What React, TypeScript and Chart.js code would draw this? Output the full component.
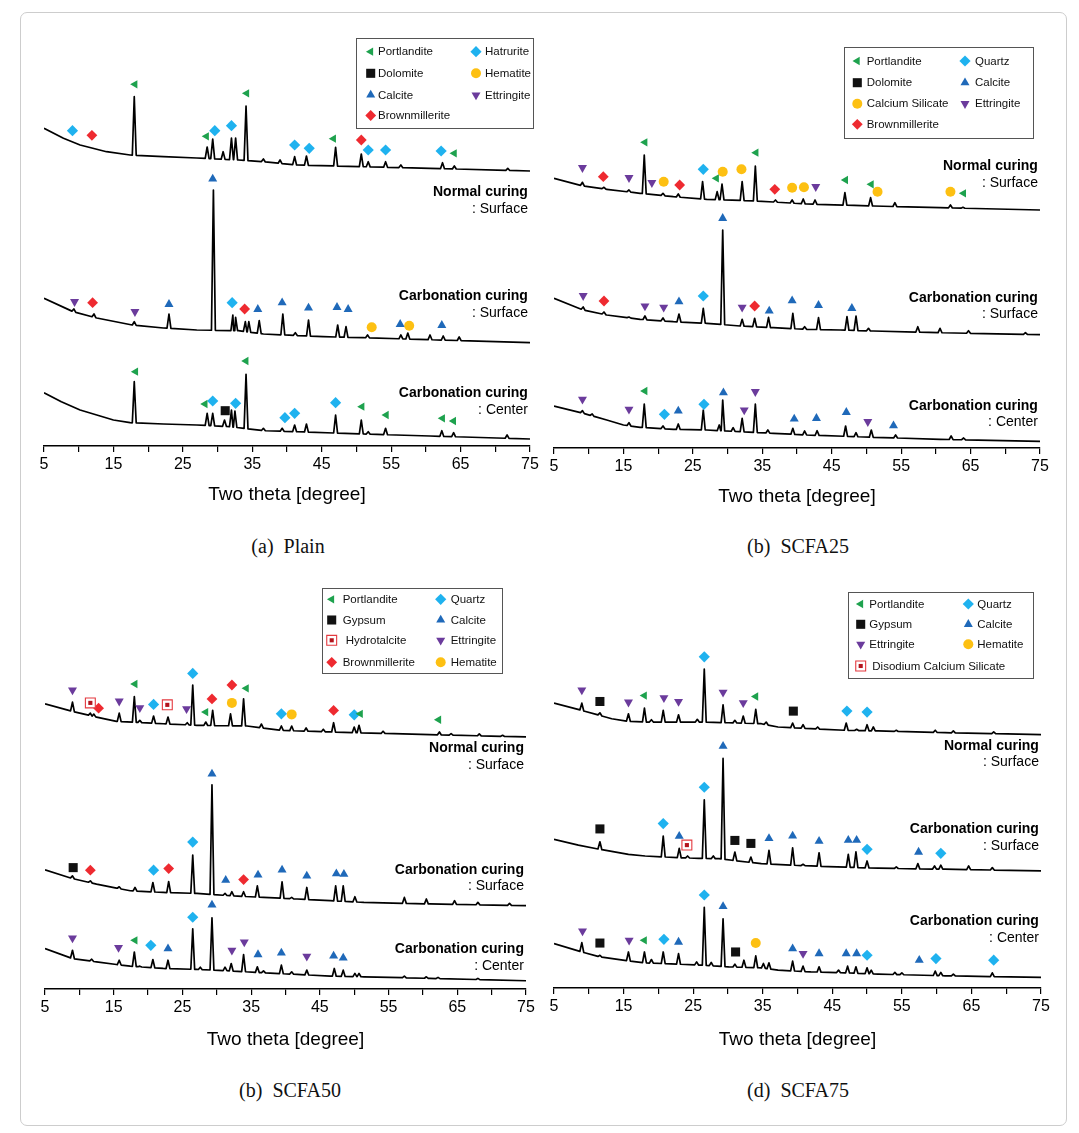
import React, { useEffect, useRef } from 'react';
import { Chart, registerables } from 'chart.js';

Chart.register(...registerables);

const FONT = '"Liberation Sans", Arial, Helvetica, sans-serif';
const SERIF = '"Liberation Serif", "Times New Roman", serif';

// ---------------- axis data ----------------
const X_MIN = 5;
const X_MAX = 75;
const X_TICK_LABELS = [5, 15, 25, 35, 45, 55, 65, 75];
const X_TITLE = 'Two theta [degree]';
const LABEL_THETA = 74.7;

// ---------------- (a) Plain ----------------
const A_NORMAL_BASE = [[5, 317.7], [7.8, 307.7], [10.2, 301], [14, 294.3], [17.4, 291], [22.2, 289.3], [27, 288], [33, 286], [36.5, 284.3], [41.4, 281], [51, 279.3], [60.6, 277.7], [75, 275]];
const A_NORMAL_PEAKS = [[18.0, 349.3], [28.5, 299], [29.3, 307], [30.8, 294.3], [32.0, 308], [32.6, 308], [34.1, 340], [36.6, 287], [39.0, 286], [41.1, 289.3], [42.8, 290], [47.0, 298.7], [50.7, 292], [51.7, 284.3], [54.2, 284.3], [56.4, 281], [62.4, 283.3], [64.1, 280], [71.8, 277.7]];
const A_NORMAL_MARKS = [['Q', 9.1, 315.3], ['B', 11.9, 310.7], ['P', 18.1, 361.7], ['P', 28.4, 309.7], ['Q', 29.6, 315.3], ['Q', 32.0, 320.3], ['P', 34.2, 352.7], ['Q', 41.1, 301], ['Q', 43.2, 297.7], ['P', 46.7, 307.3], ['B', 50.7, 306], ['Q', 51.7, 296], ['Q', 54.2, 296], ['Q', 62.2, 295], ['P', 64.1, 292.7]];

const A_CARBS_BASE = [[5, 147.7], [9.2, 134.3], [12.6, 128], [17.7, 121], [22.2, 118], [27, 116], [33, 115.3], [36.6, 112], [45.2, 109.3], [51, 108.3], [75, 103.3]];
const A_CARBS_PEAKS = [[9.3, 137], [12.2, 132], [18.0, 124.3], [23.0, 132], [29.4, 256], [32.2, 131], [32.6, 128.7], [34.0, 124.3], [34.5, 124.3], [36.0, 125.3], [39.4, 132], [41.2, 113.3], [43.1, 126], [47.3, 121], [48.5, 119.3], [51.6, 111], [56.4, 111], [57.4, 113], [60.6, 111], [62.5, 110], [64.8, 109]];
const A_CARBS_MARKS = [['E', 9.4, 144.3], ['B', 12.0, 143.3], ['E', 18.1, 134.3], ['C', 23.0, 141.7], ['C', 29.3, 267], ['Q', 32.1, 143.3], ['B', 33.9, 137], ['C', 35.8, 136.7], ['C', 39.3, 143.3], ['C', 43.1, 138], ['C', 47.2, 138.7], ['C', 48.8, 136.7], ['H', 52.2, 118.7], ['C', 56.3, 121.7], ['H', 57.6, 120.3], ['C', 62.3, 120.7]];

const A_CARBC_BASE = [[5, 53.3], [7.5, 44.3], [10.2, 36], [12.6, 31], [15, 26], [17.4, 23.3], [22.2, 22], [27, 21], [31.8, 19.3], [36.6, 15.3], [41.4, 14.3], [51, 12], [60.6, 10], [75, 7]];
const A_CARBC_PEAKS = [[18.0, 64.3], [28.5, 32.7], [29.3, 32.7], [31.0, 26], [32.0, 36], [32.5, 35], [34.1, 71.7], [36.6, 17.7], [39.3, 17.7], [41.1, 21], [42.8, 22], [47.0, 31], [50.7, 26], [51.7, 14.3], [54.2, 17.7], [62.3, 15.3], [64.0, 13.3], [71.7, 11]];
const A_CARBC_MARKS = [['P', 18.2, 74.3], ['P', 28.2, 42], ['Q', 29.3, 45], ['S', 31.1, 35.3], ['Q', 32.6, 42.7], ['P', 34.1, 85], ['Q', 39.7, 28.3], ['Q', 41.1, 32.7], ['Q', 47.0, 43.3], ['P', 50.8, 39.3], ['P', 54.3, 31], ['P', 62.4, 27.7], ['P', 64.0, 25]];

const A_LABELS = [['Normal curing', ': Surface', 253.7, 237], ['Carbonation curing', ': Surface', 150, 133.3], ['Carbonation curing', ': Center', 52.7, 36]];
const A_LEGEND = [['P', 'Portlandite'], ['Q', 'Hatrurite'], ['S', 'Dolomite'], ['H', 'Hematite'], ['C', 'Calcite'], ['E', 'Ettringite'], ['B', 'Brownmillerite']];

// ---------------- (b) SCFA25 ----------------
const B_NORMAL_BASE = [[5, 269.7], [9.2, 262], [12.6, 258.7], [17.4, 254.7], [22.2, 251.3], [27, 248.7], [34.2, 247], [41.4, 244], [51, 242], [60.6, 240.3], [75, 238]];
const B_NORMAL_PEAKS = [[9.1, 265.7], [12.2, 260.7], [15.8, 258], [18.0, 293], [20.7, 254.7], [22.9, 254], [26.4, 266.3], [28.5, 256.3], [29.2, 264], [32.1, 266.3], [34.0, 282], [36.9, 248], [39.3, 248], [40.9, 249], [42.6, 248], [46.9, 255.3], [50.6, 250.3], [54.1, 245.3], [62.1, 243], [63.9, 240.7]];
const B_NORMAL_MARKS = [['E', 9.1, 280.3], ['B', 12.1, 271.3], ['E', 15.8, 270.3], ['P', 18.1, 305.7], ['E', 19.1, 265.3], ['H', 20.8, 266.3], ['B', 23.1, 263], ['Q', 26.5, 278.7], ['P', 28.4, 269.7], ['H', 29.3, 276.3], ['H', 32.0, 278.7], ['P', 34.1, 295.3], ['B', 36.8, 258.7], ['H', 39.3, 260.3], ['H', 41.0, 260.7], ['E', 42.7, 261.3], ['P', 47.0, 268], ['P', 50.7, 263.7], ['H', 51.6, 256.3], ['H', 62.1, 256.3], ['P', 64.0, 254.7]];

const B_CARBS_BASE = [[5, 149.7], [9.2, 138], [12.6, 133], [17.4, 128.7], [22.2, 126.3], [27, 124.7], [31.8, 122], [36.6, 120.3], [41.4, 118.7], [46.2, 118], [51, 117], [60.6, 115.3], [75, 113.3]];
const B_CARBS_PEAKS = [[9.2, 141], [12.2, 136], [15.8, 131], [18.1, 132], [20.7, 130], [23.0, 134], [26.5, 139.7], [29.3, 218], [32.1, 128.7], [33.9, 129.7], [35.9, 130.7], [39.4, 134.7], [41.1, 121.3], [43.1, 130.3], [47.2, 131.3], [48.5, 132], [50.3, 119.7], [57.4, 121.3], [60.6, 119.7], [64.7, 117.3], [72.9, 115.3]];
const B_CARBS_MARKS = [['E', 9.2, 152.3], ['B', 12.2, 147], ['E', 18.1, 142], ['E', 20.8, 140.7], ['C', 23.0, 146.3], ['Q', 26.5, 152], ['C', 29.3, 229.7], ['E', 32.1, 140.7], ['B', 33.9, 142], ['C', 36.0, 137], ['C', 39.3, 147.3], ['C', 43.1, 142.7], ['C', 47.9, 139.7]];

const B_CARBC_BASE = [[5, 42], [9.2, 34.7], [12.6, 28], [15, 23], [17.4, 20.7], [22.2, 18.7], [27, 18], [31.8, 16.3], [36.6, 14.7], [41.4, 13], [51, 10.7], [60.6, 8.7], [75, 6.7]];
const B_CARBC_PEAKS = [[9.1, 37.3], [10.5, 34], [15.8, 25.3], [18.0, 44], [20.7, 22], [22.9, 24], [26.5, 38], [28.8, 23], [29.3, 48], [30.8, 20.3], [32.1, 29.7], [34.0, 44], [35.8, 18], [39.4, 19.7], [41.1, 17], [42.9, 17.3], [47.0, 22], [48.5, 15.3], [50.7, 18], [54.2, 13], [62.2, 12], [64.0, 10]];
const B_CARBC_MARKS = [['E', 9.1, 48.7], ['E', 15.8, 38.7], ['P', 18.1, 57], ['Q', 20.9, 33.7], ['C', 22.9, 37], ['Q', 26.6, 43.7], ['C', 29.4, 55.3], ['E', 32.4, 38], ['E', 34.0, 56.3], ['C', 39.6, 29], ['C', 42.8, 29.7], ['C', 47.1, 35.7], ['E', 50.2, 26.3], ['C', 53.9, 22.3]];

const B_LABELS = [['Normal curing', ': Surface', 282, 265.3], ['Carbonation curing', ': Surface', 150.3, 133.7], ['Carbonation curing', ': Center', 42.3, 25.7]];
const B_LEGEND = [['P', 'Portlandite'], ['Q', 'Quartz'], ['S', 'Dolomite'], ['C', 'Calcite'], ['H', 'Calcium Silicate'], ['E', 'Ettringite'], ['B', 'Brownmillerite']];

// ---------------- (c) SCFA50 ----------------
const C_NORMAL_BASE = [[5, 287.3], [9.0, 279.7], [12.5, 274], [15.4, 269.7], [22.2, 267.3], [27.1, 265.7], [34.4, 265], [39.2, 260.7], [46.5, 259], [61, 256.3], [75, 254]];
const C_NORMAL_PEAKS = [[9.0, 289], [11.6, 278], [12.1, 277], [15.8, 278], [18.0, 294.7], [18.8, 270.7], [20.8, 275], [22.9, 274], [25.7, 268.3], [26.5, 306.3], [28.4, 269], [29.4, 280.7], [32.0, 277.3], [33.9, 292.3], [36.5, 267], [39.4, 265], [40.9, 265], [43.0, 263], [45.5, 261.7], [47.0, 268.3], [50.0, 264], [50.7, 265.7], [54.2, 259.7], [62.4, 259], [64.1, 257.3], [68.2, 257], [71.6, 255.7]];
const C_NORMAL_MARKS = [['E', 9.0, 301.3], ['X', 11.6, 288.3], ['B', 12.8, 283], ['E', 15.8, 290], ['P', 18.1, 307.3], ['E', 18.8, 283.3], ['Q', 20.8, 286.7], ['X', 22.8, 286.3], ['E', 25.6, 282.3], ['Q', 26.5, 318], ['P', 28.4, 279], ['B', 29.3, 292.3], ['B', 32.2, 306.3], ['H', 32.2, 288.3], ['P', 34.3, 303], ['Q', 39.4, 277.3], ['H', 40.9, 276.7], ['B', 47.0, 280.7], ['Q', 50.0, 276.3], ['P', 50.9, 277.3], ['P', 62.3, 271.3]];

const C_CARBS_BASE = [[5, 120], [9.0, 111.3], [12.5, 105.7], [15.4, 101.7], [17.4, 99], [22.2, 97.3], [27.1, 96.3], [31.9, 94], [36.8, 92.3], [41.7, 90.7], [46.5, 89], [51.4, 87.3], [61, 85.7], [75, 84]];
const C_CARBS_PEAKS = [[9.0, 114], [11.6, 109], [15.8, 103], [18.1, 102.3], [20.7, 107.3], [23.0, 108.3], [26.5, 135], [29.3, 205.7], [31.2, 96.3], [32.2, 98], [33.9, 98], [35.9, 104], [39.5, 108], [40.9, 92.3], [43.1, 102.3], [47.3, 104], [48.4, 104], [50.1, 93], [57.3, 92.3], [60.5, 90.7], [64.6, 89], [68.0, 87.3], [72.6, 86.3]];
const C_CARBS_MARKS = [['S', 9.1, 122.3], ['B', 11.6, 119.7], ['Q', 20.8, 119.7], ['B', 23.0, 121.3], ['Q', 26.5, 148], ['C', 29.3, 216.7], ['C', 31.3, 109.7], ['B', 33.9, 110.3], ['C', 36.0, 115], ['C', 39.5, 120], ['C', 43.1, 114], ['C', 47.4, 116.3], ['C', 48.5, 115.7]];

const C_CARBC_BASE = [[5, 40.7], [9.0, 30.7], [12.5, 27.3], [15.4, 24.7], [17.4, 23], [22.2, 20.7], [27.1, 19.7], [31.9, 18.3], [36.8, 16.3], [41.7, 14.7], [46.5, 13], [51.4, 12.3], [61, 10.7], [75, 8.3]];
const C_CARBC_PEAKS = [[9.0, 39], [11.8, 30], [15.8, 29], [18.0, 37.3], [18.8, 23], [20.7, 29.7], [22.9, 29], [26.5, 60.7], [27.6, 22], [29.3, 71.7], [31.2, 22], [32.1, 25.7], [33.9, 34.7], [35.9, 22.3], [36.8, 18.3], [39.4, 24], [40.9, 17.3], [43.1, 19], [47.1, 20.7], [48.4, 19], [50.1, 15.7], [50.7, 15.7], [57.3, 13], [60.5, 12.3], [62.2, 11.7], [68.0, 10.7]];
const C_CARBC_MARKS = [['E', 9.0, 51.3], ['E', 15.7, 41.7], ['P', 18.1, 49], ['Q', 20.4, 44], ['C', 22.9, 40.7], ['Q', 26.5, 72.3], ['C', 29.3, 84.7], ['E', 32.2, 39], ['E', 34.0, 47.3], ['C', 36.0, 34.7], ['C', 39.4, 36.3], ['E', 43.1, 33], ['C', 47.0, 33.3], ['C', 48.4, 31.3]];

const C_LABELS = [['Normal curing', ': Surface', 242.3, 225.7], ['Carbonation curing', ': Surface', 120, 103.3], ['Carbonation curing', ': Center', 40, 23.3]];
const C_LEGEND = [['P', 'Portlandite'], ['Q', 'Quartz'], ['S', 'Gypsum'], ['C', 'Calcite'], ['X', 'Hydrotalcite'], ['E', 'Ettringite'], ['B', 'Brownmillerite'], ['H', 'Hematite']];

// ---------------- (d) SCFA75 ----------------
const D_NORMAL_BASE = [[5, 287], [9.0, 279.7], [13.3, 271.3], [15.7, 268.7], [18.1, 268], [22.9, 268], [26.2, 268], [30.1, 267.3], [34.8, 266.3], [37.2, 263], [41.9, 261.3], [46.8, 259.7], [51.6, 259], [61.2, 257.3], [75, 255.3]];
const D_NORMAL_PEAKS = [[9.0, 287], [11.6, 277.3], [15.7, 276.3], [18.0, 282], [19.0, 270.3], [20.7, 279.7], [22.9, 275.3], [25.6, 270.7], [26.6, 321.3], [29.3, 285.3], [31.0, 269.7], [32.2, 274], [34.0, 280.7], [35.5, 268], [39.3, 267], [40.8, 265.3], [42.9, 263], [47.0, 267], [48.5, 260.7], [50.0, 265.3], [50.9, 263], [54.2, 259.7], [59.8, 259.7], [62.4, 259], [68.2, 258]];
const D_NORMAL_MARKS = [['E', 9.0, 300.3], ['S', 11.6, 288.7], ['E', 15.7, 288], ['P', 18.0, 294.7], ['E', 20.8, 292.3], ['E', 22.9, 288.7], ['Q', 26.6, 333.7], ['E', 29.3, 298], ['E', 32.2, 287.3], ['P', 34.0, 293.7], ['S', 39.4, 279], ['Q', 47.1, 279], ['Q', 50.0, 278]];

const D_CARBS_BASE = [[5, 149.7], [8.5, 144], [11.6, 139.7], [15.7, 134.7], [18.1, 133], [22.9, 131.3], [25.8, 130.7], [28.7, 130.3], [30.6, 128.7], [34.8, 125.3], [39.5, 123.7], [44.4, 122.3], [51.6, 120.7], [61.2, 119.7], [75, 118]];
const D_CARBS_PEAKS = [[11.6, 147.3], [20.7, 153], [23.0, 140.7], [24.2, 133], [26.6, 189.7], [27.9, 133], [29.3, 231.3], [31.0, 137], [33.3, 132], [35.9, 138.7], [39.3, 141.3], [40.8, 124.7], [43.1, 136.3], [47.3, 134.7], [48.4, 137.3], [50.0, 128], [54.2, 122], [57.3, 125.3], [59.7, 123], [60.6, 123.7], [64.6, 123], [68.0, 121.3]];
const D_CARBS_MARKS = [['S', 11.6, 160.3], ['Q', 20.7, 165.7], ['C', 23.0, 153], ['X', 24.1, 144], ['Q', 26.6, 202.3], ['C', 29.3, 243.7], ['S', 31.0, 148.7], ['S', 33.3, 145.7], ['C', 35.9, 150.7], ['C', 39.3, 153.3], ['C', 43.1, 148], ['C', 47.3, 149], ['C', 48.5, 149], ['Q', 50.0, 139.7], ['C', 57.4, 137], ['Q', 60.6, 135.7]];

const D_CARBC_BASE = [[5, 44.7], [9.0, 36.3], [11.6, 31.3], [15.7, 27.3], [18.1, 25.3], [22.9, 24], [26.2, 23], [30.1, 21.3], [34.8, 20.3], [37.2, 18], [41.9, 16.3], [46.8, 15.3], [51.6, 14], [61.2, 12.3], [75, 10.7]];
const D_CARBC_PEAKS = [[9.0, 45.7], [11.6, 33], [15.7, 36.3], [18.0, 36.3], [19.0, 28.7], [20.7, 36.3], [22.9, 34.7], [25.5, 26.3], [26.6, 81.3], [27.6, 25.7], [29.3, 69.7], [31.0, 24], [32.3, 28], [34.0, 32.3], [35.1, 24.7], [35.9, 25.3], [39.3, 27], [40.8, 22], [43.1, 21.3], [45.9, 18], [47.2, 22], [48.4, 21.3], [50.0, 20.3], [50.6, 18], [54.0, 15.7], [55.0, 15.3], [59.8, 17], [60.6, 15.7], [62.4, 14], [68.0, 15.3]];
const D_CARBC_MARKS = [['E', 9.1, 57.3], ['S', 11.6, 45.3], ['E', 15.8, 48], ['P', 18.0, 48], ['Q', 20.8, 49], ['C', 22.9, 46.3], ['Q', 26.6, 93.7], ['C', 29.3, 82.3], ['S', 31.1, 36.3], ['H', 34.0, 45.3], ['C', 39.3, 39.7], ['E', 40.8, 34.7], ['C', 43.1, 34.7], ['C', 47.0, 34.7], ['C', 48.5, 34.7], ['Q', 50.0, 33], ['C', 57.5, 28], ['Q', 59.9, 29.7], ['Q', 68.2, 28]];

const D_LABELS = [['Normal curing', ': Surface', 244, 227.3], ['Carbonation curing', ': Surface', 159.7, 143], ['Carbonation curing', ': Center', 67, 50.3]];
const D_LEGEND = [['P', 'Portlandite'], ['Q', 'Quartz'], ['S', 'Gypsum'], ['C', 'Calcite'], ['E', 'Ettringite'], ['H', 'Hematite'], ['X', 'Disodium Calcium Silicate']];

// ---------------- styles ----------------
const PHASE_STYLE: Record<string, { shape: string; rotation: number; radius: number; color: string }> = {
  P: { shape: 'triangle', rotation: -90, radius: 4.8, color: '#1ea24e' },
  Q: { shape: 'rectRot', rotation: 0, radius: 5.6, color: '#1fb2ef' },
  S: { shape: 'rect', rotation: 0, radius: 6.4, color: '#111111' },
  C: { shape: 'triangle', rotation: 0, radius: 5.2, color: '#1f69b9' },
  B: { shape: 'rectRot', rotation: 0, radius: 5.4, color: '#ee2a30' },
  H: { shape: 'circle', rotation: 0, radius: 5.0, color: '#fdc012' },
  E: { shape: 'triangle', rotation: 180, radius: 5.2, color: '#6b3b9c' },
  X: { shape: 'rect', rotation: 0, radius: 7.0, color: '#e4393f' },
};
const X_INNER = { radius: 2.9, color: '#b3141d' };

const PANELS = [
  {
    key: 'a', x5: 44, x75: 530, top: 40, axis: 446, cTop: 30, titleOff: 49,
    traces: [[A_NORMAL_BASE, A_NORMAL_PEAKS, A_NORMAL_MARKS], [A_CARBS_BASE, A_CARBS_PEAKS, A_CARBS_MARKS], [A_CARBC_BASE, A_CARBC_PEAKS, A_CARBC_MARKS]],
    labels: A_LABELS, legend: A_LEGEND,
    legendBox: [356, 38, 533, 128], legendRows: [51.7, 73.3, 95, 115.5], legendCols: [[370.7, 378], [476, 485]],
    caption: '(a)  Plain', capX: 288, capY: 546,
  },
  {
    key: 'b', x5: 554, x75: 1040, top: 40, axis: 448, cTop: 30, titleOff: 49,
    traces: [[B_NORMAL_BASE, B_NORMAL_PEAKS, B_NORMAL_MARKS], [B_CARBS_BASE, B_CARBS_PEAKS, B_CARBS_MARKS], [B_CARBC_BASE, B_CARBC_PEAKS, B_CARBC_MARKS]],
    labels: B_LABELS, legend: B_LEGEND,
    legendBox: [844, 47, 1033, 138], legendRows: [61, 82.7, 103.7, 124.3], legendCols: [[857.3, 866.7], [965, 975]],
    caption: '(b)  SCFA25', capX: 798, capY: 546,
  },
  {
    key: 'c', x5: 45, x75: 526, top: 580, axis: 989, cTop: 575, titleOff: 51,
    traces: [[C_NORMAL_BASE, C_NORMAL_PEAKS, C_NORMAL_MARKS], [C_CARBS_BASE, C_CARBS_PEAKS, C_CARBS_MARKS], [C_CARBC_BASE, C_CARBC_PEAKS, C_CARBC_MARKS]],
    labels: C_LABELS, legend: C_LEGEND,
    legendBox: [322, 588, 502, 673], legendRows: [599.3, 620, 640.3, 662.3], legendCols: [[331.7, 342.7], [440.7, 450.7]],
    caption: '(b)  SCFA50', capX: 290, capY: 1090,
  },
  {
    key: 'd', x5: 554, x75: 1041, top: 580, axis: 988, cTop: 575, titleOff: 52,
    traces: [[D_NORMAL_BASE, D_NORMAL_PEAKS, D_NORMAL_MARKS], [D_CARBS_BASE, D_CARBS_PEAKS, D_CARBS_MARKS], [D_CARBC_BASE, D_CARBC_PEAKS, D_CARBC_MARKS]],
    labels: D_LABELS, legend: D_LEGEND,
    legendBox: [848, 592, 1033, 678], legendRows: [604, 624.3, 644.3, 666], legendCols: [[860.7, 869.3], [968.3, 977.3]],
    caption: '(d)  SCFA75', capX: 798, capY: 1090,
  },
];

const PAD_X = 24;
const AXIS_H = 66;
const TITLE_SIZE = 19;

// ---------------- helpers ----------------
function baseAt(base: number[][], t: number) {
  for (let i = 0; i < base.length - 1; i++) {
    const [x0, y0] = base[i];
    const [x1, y1] = base[i + 1];
    if (t >= x0 && t <= x1) return y0 + ((y1 - y0) * (t - x0)) / (x1 - x0);
  }
  return t < base[0][0] ? base[0][1] : base[base.length - 1][1];
}

function buildTrace(base: number[][], peaks: number[][], hw = 0.28) {
  const pts = base
    .filter(([x]) => !peaks.some(([p]) => Math.abs(x - p) <= hw))
    .map(([x, y]) => ({ x, y }));
  for (const [p, top] of peaks) {
    pts.push({ x: p - hw, y: baseAt(base, p - hw) }, { x: p, y: top }, { x: p + hw, y: baseAt(base, p + hw) });
  }
  pts.sort((a, b) => a.x - b.x);
  return pts;
}

function markerDatasets(marks: any[]) {
  const codes = Array.from(new Set(marks.map((m) => m[0])));
  const out: any[] = [];
  for (const code of codes) {
    const data = marks.filter((m) => m[0] === code).map((m) => ({ x: m[1], y: m[2] }));
    const s = PHASE_STYLE[code];
    if (code === 'X') {
      out.push({ type: 'scatter', data, showLine: false, pointStyle: 'rect', pointRadius: s.radius, pointBackgroundColor: '#ffffff', pointBorderColor: s.color, pointBorderWidth: 1.1, order: 0 });
      out.push({ type: 'scatter', data, showLine: false, pointStyle: 'rect', pointRadius: X_INNER.radius, pointBackgroundColor: X_INNER.color, pointBorderColor: X_INNER.color, pointBorderWidth: 0, order: -1 });
    } else {
      out.push({ type: 'scatter', data, showLine: false, pointStyle: s.shape, pointRotation: s.rotation, pointRadius: s.radius, pointBackgroundColor: s.color, pointBorderColor: s.color, pointBorderWidth: 0, order: 0 });
    }
  }
  return out;
}

function shapePath(ctx: CanvasRenderingContext2D, shape: string, rotation: number, r: number, x: number, y: number) {
  ctx.beginPath();
  if (shape === 'triangle') {
    let rad = (rotation * Math.PI) / 180;
    ctx.moveTo(x + Math.sin(rad) * r, y - Math.cos(rad) * r);
    rad += (2 * Math.PI) / 3;
    ctx.lineTo(x + Math.sin(rad) * r, y - Math.cos(rad) * r);
    rad += (2 * Math.PI) / 3;
    ctx.lineTo(x + Math.sin(rad) * r, y - Math.cos(rad) * r);
    ctx.closePath();
  } else if (shape === 'rectRot') {
    ctx.moveTo(x, y - r);
    ctx.lineTo(x + r, y);
    ctx.lineTo(x, y + r);
    ctx.lineTo(x - r, y);
    ctx.closePath();
  } else if (shape === 'rect') {
    const s = Math.SQRT1_2 * r;
    ctx.rect(x - s, y - s, 2 * s, 2 * s);
  } else {
    ctx.arc(x, y, r, 0, Math.PI * 2);
  }
}

function drawLegendMarker(ctx: CanvasRenderingContext2D, code: string, x: number, y: number) {
  const s = PHASE_STYLE[code];
  ctx.save();
  if (code === 'X') {
    shapePath(ctx, 'rect', 0, s.radius, x, y);
    ctx.fillStyle = '#fff';
    ctx.fill();
    ctx.strokeStyle = s.color;
    ctx.lineWidth = 1.1;
    ctx.stroke();
    shapePath(ctx, 'rect', 0, X_INNER.radius, x, y);
    ctx.fillStyle = X_INNER.color;
    ctx.fill();
  } else {
    shapePath(ctx, s.shape, s.rotation, s.radius, x, y);
    ctx.fillStyle = s.color;
    ctx.fill();
  }
  ctx.restore();
}

function makeConfig(cfg: any) {
  const datasets: any[] = [];
  for (const [base, peaks] of cfg.traces) {
    datasets.push({
      type: 'scatter', data: buildTrace(base, peaks), showLine: true, borderColor: '#000', borderWidth: 1.7,
      borderJoinStyle: 'round', pointRadius: 0, pointHoverRadius: 0, order: 1,
    });
  }
  for (const tr of cfg.traces) datasets.push(...markerDatasets(tr[2]));

  const cLeft = cfg.x5 - PAD_X;
  const yMax = cfg.axis - cfg.top;
  const titleLH = TITLE_SIZE * 1.2;
  const titlePadBottom = AXIS_H - cfg.titleOff - titleLH / 2;

  const deco = {
    id: 'deco' + cfg.key,
    afterDatasetsDraw(chart: any) {
      const ctx: CanvasRenderingContext2D = chart.ctx;
      const xs = chart.scales.x;
      const ys = chart.scales.y;
      ctx.save();
      ctx.fillStyle = '#000';
      ctx.textAlign = 'right';
      ctx.textBaseline = 'middle';
      const lx = xs.getPixelForValue(LABEL_THETA);
      for (const [t1, t2, i1, i2] of cfg.labels) {
        ctx.font = `bold 14px ${FONT}`;
        ctx.fillText(t1, lx, ys.getPixelForValue(i1));
        ctx.font = `14px ${FONT}`;
        ctx.fillText(t2, lx, ys.getPixelForValue(i2));
      }
      // legend box
      const [l, t, r, b] = cfg.legendBox;
      ctx.fillStyle = '#fff';
      ctx.fillRect(l - cLeft, t - cfg.cTop, r - l, b - t);
      ctx.strokeStyle = '#555';
      ctx.lineWidth = 1;
      ctx.strokeRect(Math.round(l - cLeft) + 0.5, Math.round(t - cfg.cTop) + 0.5, Math.round(r - l), Math.round(b - t));
      ctx.textAlign = 'left';
      ctx.font = `11.5px ${FONT}`;
      cfg.legend.forEach(([code, name]: string[], i: number) => {
        const row = Math.floor(i / 2);
        const col = i % 2;
        const [mx, tx] = cfg.legendCols[col];
        const y = cfg.legendRows[row] - cfg.cTop;
        drawLegendMarker(ctx, code, mx - cLeft, y);
        ctx.fillStyle = '#111';
        ctx.fillText(name, tx - cLeft + (code === 'X' ? 3 : 0), y + 0.5);
      });
      ctx.restore();
    },
  };

  return {
    type: 'scatter',
    data: { datasets },
    options: {
      animation: false,
      responsive: false,
      maintainAspectRatio: false,
      devicePixelRatio: 1,
      events: [],
      layout: { padding: { left: PAD_X, right: PAD_X, top: cfg.top - cfg.cTop, bottom: 0 } },
      plugins: { legend: { display: false }, tooltip: { enabled: false }, title: { display: false } },
      scales: {
        x: {
          type: 'linear', min: X_MIN, max: X_MAX,
          ticks: {
            stepSize: 5, autoSkip: false, maxRotation: 0, padding: 3, color: '#000',
            font: { family: FONT, size: 16 },
            callback: (v: number) => (X_TICK_LABELS.includes(v) ? String(v) : ''),
          },
          grid: { drawOnChartArea: false, drawTicks: true, tickLength: 6, color: '#000', lineWidth: 1.2 },
          border: { display: true, color: '#000', width: 1.5 },
          title: { display: true, text: X_TITLE, color: '#000', font: { family: FONT, size: TITLE_SIZE }, padding: { top: 0, bottom: titlePadBottom } },
          afterFit: (scale: any) => { scale.height = AXIS_H; },
        },
        y: { display: false, min: 0, max: yMax },
      },
    },
    plugins: [deco],
  };
}

function Panel({ cfg }: { cfg: any }) {
  const ref = useRef<HTMLCanvasElement>(null);
  const w = cfg.x75 - cfg.x5 + 2 * PAD_X;
  const h = cfg.axis - cfg.cTop + AXIS_H;
  useEffect(() => {
    const chart = new Chart(ref.current as HTMLCanvasElement, makeConfig(cfg) as any);
    return () => chart.destroy();
  }, []);
  return (
    <>
      <canvas
        ref={ref}
        width={w}
        height={h}
        style={{ position: 'absolute', left: cfg.x5 - PAD_X, top: cfg.cTop, width: w, height: h }}
      />
      <div
        style={{
          position: 'absolute', left: cfg.capX - 150, width: 300, top: cfg.capY - 12, height: 24,
          lineHeight: '24px', textAlign: 'center', fontFamily: SERIF, fontSize: 20, whiteSpace: 'pre', color: '#111',
        }}
      >
        {cfg.caption}
      </div>
    </>
  );
}

export default function App() {
  return (
    <div style={{ position: 'absolute', left: 0, top: 0, width: 1079, height: 1133, background: '#fff', overflow: 'hidden' }}>
      <div
        style={{
          position: 'absolute', left: 20, top: 12, width: 1047, height: 1114, boxSizing: 'border-box',
          border: '1px solid #cdcdcd', borderRadius: 7,
        }}
      />
      {PANELS.map((p) => (
        <Panel key={p.key} cfg={p} />
      ))}
    </div>
  );
}
